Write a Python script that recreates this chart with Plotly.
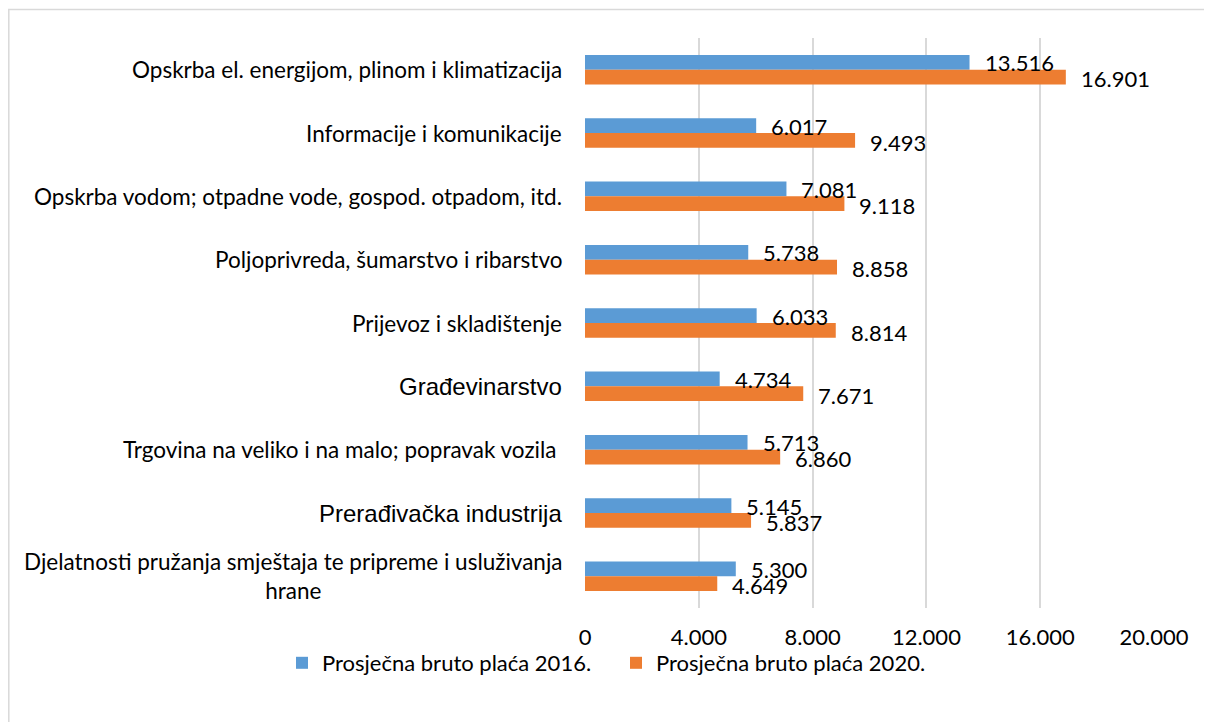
import plotly.graph_objects as go

categories = [
    "Opskrba el. energijom, plinom i klimatizacija",
    "Informacije i komunikacije",
    "Opskrba vodom; otpadne vode, gospod. otpadom, itd.",
    "Poljoprivreda, šumarstvo i ribarstvo",
    "Prijevoz i skladištenje",
    "Građevinarstvo",
    "Trgovina na veliko i na malo; popravak vozila",
    "Prerađivačka industrija",
    "Djelatnosti pružanja smještaja te pripreme i usluživanja hrane",
]
category_labels = [
    "Opskrba el. energijom, plinom i klimatizacija",
    "Informacije i komunikacije",
    "Opskrba vodom; otpadne vode, gospod. otpadom, itd.",
    "Poljoprivreda, šumarstvo i ribarstvo",
    "Prijevoz i skladištenje",
    "Građevinarstvo",
    "Trgovina na veliko i na malo; popravak vozila\u00a0",
    "Prerađivačka industrija",
    "Djelatnosti pružanja smještaja te pripreme i usluživanja<br>hrane",
]
arial_labels = {"Građevinarstvo", "Prerađivačka industrija"}

placa_2016 = [13516, 6017, 7081, 5738, 6033, 4734, 5713, 5145, 5300]
placa_2020 = [16901, 9493, 9118, 8858, 8814, 7671, 6860, 5837, 4649]

series_names = ["Prosječna bruto plaća 2016.", "Prosječna bruto plaća 2020."]
tick_values = [0, 4000, 8000, 12000, 16000, 20000]
tick_labels = ["0", "4.000", "8.000", "12.000", "16.000", "20.000"]

BLUE = "#5b9bd5"
ORANGE = "#ed7d31"
CAL = "Lato, Carlito, Calibri, sans-serif"
ARIAL = "Liberation Sans, Arial, sans-serif"
CAL_SIZE = 22
OFF = 8  # page body margin
W, H = 1212 - OFF, 722 - OFF
L, R, T, B = 585 - OFF, 58, 38 - OFF, 114
PW, PH = W - L - R, H - T - B


def fmt(v):
    return f"{v:,}".replace(",", ".")


fig = go.Figure()
fig.add_trace(go.Bar(y=categories, x=placa_2016, orientation="h", name=series_names[0],
                     marker=dict(color=BLUE, line=dict(width=0)), hoverinfo="x+name"))
fig.add_trace(go.Bar(y=categories, x=placa_2020, orientation="h", name=series_names[1],
                     marker=dict(color=ORANGE, line=dict(width=0)), hoverinfo="x+name"))

annotations = []
for cat, lab in zip(categories, category_labels):
    f = dict(family=ARIAL, size=24, color="#000") if cat in arial_labels else dict(family=CAL, size=22.5, color="#000")
    annotations.append(dict(x=0, xref="paper", y=cat, yref="y", text=lab, showarrow=False,
                            xanchor="right", yanchor="middle", align="center", xshift=-21, font=f))
for cat, v in zip(categories, placa_2016):
    annotations.append(dict(x=v, y=cat, xref="x", yref="y", text=fmt(v), showarrow=False,
                            xanchor="left", yanchor="middle", xshift=13, yshift=7,
                            font=dict(family=CAL, size=CAL_SIZE, color="#000")))
for cat, v in zip(categories, placa_2020):
    annotations.append(dict(x=v, y=cat, xref="x", yref="y", text=fmt(v), showarrow=False,
                            xanchor="left", yanchor="middle", xshift=13, yshift=-9,
                            font=dict(family=CAL, size=CAL_SIZE, color="#000")))


def px_x(p):  # page pixel -> paper
    return (p - OFF - L) / PW


def px_y(p):
    return (H - B - (p - OFF)) / PH


fig.update_layout(
    width=W, height=H,
    margin=dict(l=L, r=R, t=T, b=B),
    paper_bgcolor="white", plot_bgcolor="white",
    barmode="group", bargap=0.535, bargroupgap=0,
    showlegend=True,
    legend=dict(orientation="h", x=px_x(282), xanchor="left", y=px_y(663), yanchor="middle",
                bgcolor="rgba(0,0,0,0)",
                font=dict(family=CAL, size=CAL_SIZE, color="#000"), itemwidth=30,
                entrywidth=289, entrywidthmode="pixels", traceorder="normal"),
    xaxis=dict(range=[0, 20000], tickvals=tick_values, ticktext=tick_labels,
               showgrid=True, gridcolor="#d9d9d9", gridwidth=1.5, zeroline=False,
               showline=False, ticks="outside", ticklen=10, tickcolor="rgba(0,0,0,0)",
               tickfont=dict(family=CAL, size=CAL_SIZE, color="#000"), fixedrange=True),
    yaxis=dict(autorange="reversed", showticklabels=False, showgrid=False, zeroline=False,
               showline=False, ticks="", fixedrange=True),
    annotations=annotations,
    shapes=[dict(type="rect", xref="paper", yref="paper",
                 x0=px_x(8.8), x1=px_x(1240), y0=px_y(740), y1=px_y(9.5),
                 line=dict(color="#d9d9d9", width=1.5), fillcolor="rgba(0,0,0,0)", layer="below")],
)

fig.write_html("out.html")
